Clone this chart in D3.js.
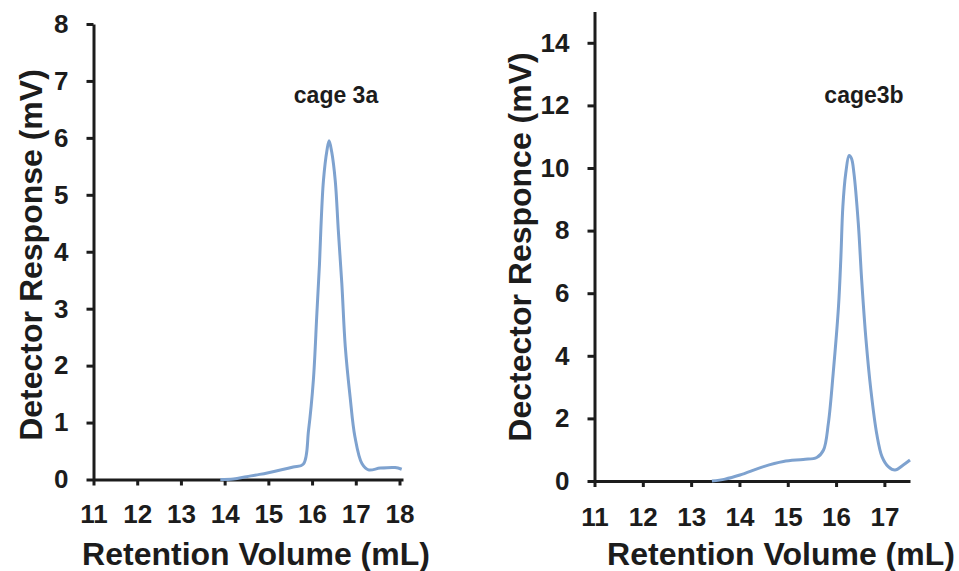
<!DOCTYPE html>
<html>
<head>
<meta charset="utf-8">
<script src="https://cdn.jsdelivr.net/npm/d3@7"></script>
<style>
    body { margin: 0; background: #fff; }
    text { font-family: "Liberation Sans", Arial, sans-serif; font-weight: bold; fill: #1c1c1c; }
</style>
</head>
<body>
<div id="chart-area"></div>
<script>
// Data
var cage3aVolume   = [13.9, 14.2, 14.5, 14.8, 15.0, 15.3, 15.57, 15.8, 15.92, 16.03, 16.11, 16.17, 16.2, 16.26, 16.34, 16.39, 16.45, 16.53, 16.6, 16.68, 16.76, 16.87, 16.98, 17.14, 17.29, 17.56, 17.9, 18.05];
var cage3aResponse = [0, 0.01, 0.05, 0.09, 0.12, 0.17, 0.22, 0.27, 0.87, 1.75, 2.92, 3.79, 4.38, 5.25, 5.78, 5.95, 5.75, 5.25, 4.38, 3.45, 2.33, 1.45, 0.75, 0.28, 0.17, 0.2, 0.21, 0.18];

var cage3bVolume   = [13.43, 13.7, 14.01, 14.5, 14.91, 15.32, 15.6, 15.74, 15.84, 15.94, 16.05, 16.1, 16.14, 16.2, 16.27, 16.32, 16.37, 16.46, 16.53, 16.62, 16.72, 16.84, 16.95, 17.08, 17.22, 17.39, 17.53];
var cage3bResponse = [0, 0.06, 0.19, 0.46, 0.62, 0.69, 0.75, 0.99, 1.84, 3.44, 5.57, 7.17, 8.76, 9.83, 10.4, 10.3, 9.83, 8.23, 6.42, 4.5, 2.91, 1.52, 0.78, 0.46, 0.35, 0.51, 0.67];

// Tick labels
var xTicksA = [11, 12, 13, 14, 15, 16, 17, 18];
var yTicksA = [0, 1, 2, 3, 4, 5, 6, 7, 8];
var xTicksB = [11, 12, 13, 14, 15, 16, 17];
var yTicksB = [0, 2, 4, 6, 8, 10, 12, 14];

var width = 959, height = 571;

var svg = d3.select("#chart-area")
    .append("svg")
        .attr("width", width)
        .attr("height", height);

// Panel layout (pixel positions of the axes)
var panels = [
    {
        xs: cage3aVolume, ys: cage3aResponse,
        xDomain: [11, 18.08], xRange: [93.5, 403],
        yDomain: [0, 8], yRange: [479.5, 24],
        xTicks: xTicksA, yTicks: yTicksA,
        yLabel: "Detector Response (mV)", yLabelX: 42, yLabelY: 255,
        xLabelX: 256, xLabelY: 565,
        name: "cage 3a", nameX: 336, nameY: 103, xPad: 19
    },
    {
        xs: cage3bVolume, ys: cage3bResponse,
        xDomain: [11, 17.53], xRange: [594.5, 910],
        yDomain: [0, 15], yRange: [481, 11.5],
        xTicks: xTicksB, yTicks: yTicksB,
        yLabel: "Dectector Responce (mV)", yLabelX: 531, yLabelY: 247,
        xLabelX: 781, xLabelY: 565,
        name: "cage3b", nameX: 864, nameY: 103, xPad: 21
    }
];

function styleAxis(a) {
    a.selectAll("path, line")
        .attr("stroke", "#1c1c1c")
        .attr("stroke-width", 3);
    a.selectAll("text")
        .attr("font-family", null)
        .attr("font-size", "26px")
        .attr("fill", "#1c1c1c");
}

panels.forEach(function(p) {
    var g = svg.append("g");

    // Scales
    var x = d3.scaleLinear()
        .domain(p.xDomain)
        .range(p.xRange);

    var y = d3.scaleLinear()
        .domain(p.yDomain)
        .range(p.yRange);

    // X axis
    var xAxisCall = d3.axisBottom(x)
        .tickValues(p.xTicks)
        .tickFormat(d3.format("d"))
        .tickSizeInner(6)
        .tickSizeOuter(0)
        .tickPadding(p.xPad);

    g.append("g")
        .attr("class", "x axis")
        .attr("transform", "translate(0," + p.yRange[0] + ")")
        .call(xAxisCall)
        .call(styleAxis);

    // Y axis
    var yAxisCall = d3.axisLeft(y)
        .tickValues(p.yTicks)
        .tickFormat(d3.format("d"))
        .tickSizeInner(7)
        .tickSizeOuter(0)
        .tickPadding(18);

    g.append("g")
        .attr("class", "y axis")
        .attr("transform", "translate(" + p.xRange[0] + ",0)")
        .call(yAxisCall)
        .call(styleAxis);

    // Trace
    var points = p.xs.map(function(v, i) { return [v, p.ys[i]]; });

    var line = d3.line()
        .x(function(d) { return x(d[0]); })
        .y(function(d) { return y(d[1]); })
        .curve(d3.curveCatmullRom.alpha(0.5));

    g.append("path")
        .datum(points)
        .attr("fill", "none")
        .attr("stroke", "#7ea2cf")
        .attr("stroke-width", 3)
        .attr("stroke-linejoin", "round")
        .attr("d", line);

    // Y Label
    g.append("text")
        .attr("transform", "translate(" + p.yLabelX + "," + p.yLabelY + ") rotate(-90)")
        .attr("text-anchor", "middle")
        .attr("font-size", "32px")
        .text(p.yLabel);

    // X Label
    g.append("text")
        .attr("x", p.xLabelX)
        .attr("y", p.xLabelY)
        .attr("text-anchor", "middle")
        .attr("font-size", "32px")
        .text("Retention Volume (mL)");

    // Sample name
    g.append("text")
        .attr("x", p.nameX)
        .attr("y", p.nameY)
        .attr("text-anchor", "middle")
        .attr("font-size", "23px")
        .text(p.name);
});
</script>
</body>
</html>
